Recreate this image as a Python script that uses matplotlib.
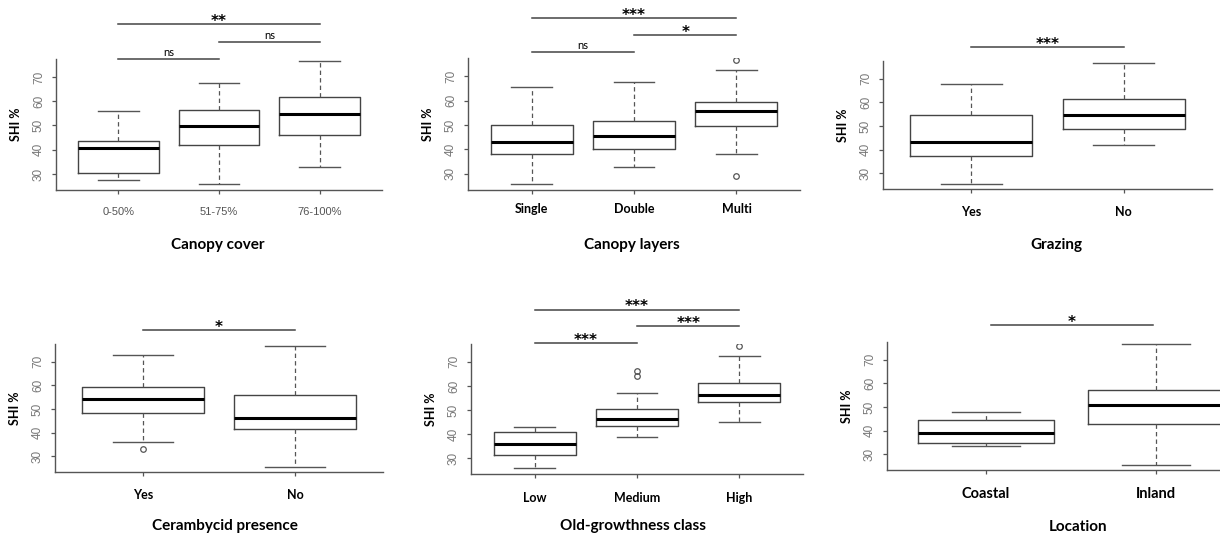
import matplotlib
matplotlib.use("Agg")
import matplotlib.pyplot as plt

# ---- data (SHI %) ----
cover_cats = ["0-50%", "51-75%", "76-100%"]
cover_whislo = [27.5, 25.7, 33.0]
cover_q1 = [30.3, 42.0, 46.1]
cover_med = [40.7, 49.8, 54.8]
cover_q3 = [43.6, 56.3, 61.8]
cover_whishi = [55.9, 67.6, 76.5]
cover_fliers = [[], [], []]
cover_sig = [(1, 2, 77.5, "ns"), (2, 3, 84.4, "ns"), (1, 3, 91.7, "**")]

layers_cats = ["Single", "Double", "Multi"]
layers_whislo = [25.7, 33.0, 38.2]
layers_q1 = [38.2, 40.2, 49.4]
layers_med = [42.9, 45.5, 55.7]
layers_q3 = [49.9, 51.7, 59.3]
layers_whishi = [65.6, 67.6, 72.5]
layers_fliers = [[], [], [76.5, 29.3]]
layers_sig = [(1, 2, 79.8, "ns"), (2, 3, 86.7, "*"), (1, 3, 93.7, "***")]

grazing_cats = ["Yes", "No"]
grazing_whislo = [25.7, 41.8]
grazing_q1 = [37.5, 48.8]
grazing_med = [43.3, 54.8]
grazing_q3 = [54.5, 61.3]
grazing_whishi = [67.6, 76.5]
grazing_fliers = [[], []]
grazing_sig = [(1, 2, 83.3, "***")]

ceram_cats = ["Yes", "No"]
ceram_whislo = [36.1, 25.7]
ceram_q1 = [48.5, 41.5]
ceram_med = [54.4, 46.2]
ceram_q3 = [59.2, 55.7]
ceram_whishi = [72.6, 76.6]
ceram_fliers = [[33.2], []]
ceram_sig = [(1, 2, 83.3, "*")]

og_cats = ["Low", "Medium", "High"]
og_whislo = [25.8, 38.6, 44.8]
og_q1 = [31.4, 43.4, 53.5]
og_med = [35.7, 46.3, 56.2]
og_q3 = [40.7, 50.2, 61.4]
og_whishi = [42.9, 57.1, 72.6]
og_fliers = [[], [66.1, 64.2], [76.6]]
og_sig = [(1, 2, 77.9, "***"), (2, 3, 84.8, "***"), (1, 3, 91.7, "***")]

loc_cats = ["Coastal", "Inland"]
loc_whislo = [33.5, 25.7]
loc_q1 = [34.7, 43.0]
loc_med = [39.1, 51.0]
loc_q3 = [44.5, 57.1]
loc_whishi = [47.7, 76.4]
loc_fliers = [[], []]
loc_sig = [(1.03, 1.98, 84.7, "*")]

titles = ["Canopy cover", "Canopy layers", "Grazing",
          "Cerambycid presence", "Old-growthness class", "Location"]

W, H = 1220, 536
fig = plt.figure(figsize=(W / 100, H / 100), dpi=100)
BOLD = ["Lato", "DejaVu Sans"]


def make_stats(whislo, q1, med, q3, whishi, fliers):
    return [dict(whislo=a, q1=b, med=c, q3=d, whishi=e, fliers=f)
            for a, b, c, d, e, f in zip(whislo, q1, med, q3, whishi, fliers)]


def panel(box, cats, stats, sig, title, title_xy, tick_font, tick_pad):
    left, right, top, bottom = box
    ax = fig.add_axes([left / W, 1 - bottom / H, (right - left) / W, (bottom - top) / H])
    n = len(cats)
    pos = list(range(1, n + 1))
    ax.bxp(stats, positions=pos, widths=0.8, capwidths=0.4, patch_artist=False,
           boxprops=dict(color="#444444", lw=1.0),
           whiskerprops=dict(color="#555555", lw=0.9, linestyle=(0, (3.5, 2.5))),
           capprops=dict(color="#555555", lw=1.0),
           medianprops=dict(color="black", lw=2.2, solid_capstyle="butt"),
           flierprops=dict(marker="o", mfc="none", mec="#555555", ms=4, mew=0.9))
    ax.set_xlim(0.5 - 0.04 * n, n + 0.5 + 0.04 * n)
    ax.set_ylim(23.4, 77.4)
    for s in ("top", "right"):
        ax.spines[s].set_visible(False)
    for s in ("left", "bottom"):
        ax.spines[s].set_color("#555555")
        ax.spines[s].set_linewidth(1.0)
    ax.set_yticks([30, 40, 50, 60, 70])
    ax.set_yticklabels(["30", "40", "50", "60", "70"], rotation=90, va="center",
                       color="#777777", fontsize=8.5, family="Liberation Sans")
    ax.tick_params(axis="y", length=3, width=0.9, color="#555555", pad=5)
    ax.set_xticks(pos)
    ax.set_xticklabels(cats, **tick_font)
    ax.tick_params(axis="x", length=3, width=0.9, color="#555555", pad=tick_pad)
    # y label placed ~40 px left of spine
    fig.text((left - 40) / W, 1 - (top + bottom) / 2 / H, "SHI %", rotation=90,
             ha="center", va="center", fontsize=9, fontweight="bold", family=BOLD)
    for i, j, y, lab in sig:
        ax.plot([i, j], [y, y], color="#444444", lw=1.1, clip_on=False)
        if lab == "ns":
            ax.annotate(lab, xy=((i + j) / 2, y), xytext=(0, 0.5), textcoords="offset points",
                        ha="center", va="bottom", fontsize=8, family=BOLD,
                        annotation_clip=False)
        else:
            ax.annotate(lab, xy=((i + j) / 2, y), xytext=(0, -3.5), textcoords="offset points",
                        ha="center", va="bottom", fontsize=11, fontweight="bold",
                        family="DejaVu Sans", annotation_clip=False)
    fig.text(title_xy[0] / W, 1 - title_xy[1] / H, title, ha="center", va="center",
             fontsize=11, fontweight="bold", family=BOLD)
    return ax


grey_font = dict(fontsize=8, color="#555555", family="Liberation Sans")
bold_font = dict(fontsize=9, color="black", fontweight="bold", family=BOLD)
big_font = dict(fontsize=10.5, color="black", fontweight="bold", family=BOLD)

panel((56, 382, 59, 190), cover_cats,
      make_stats(cover_whislo, cover_q1, cover_med, cover_q3, cover_whishi, cover_fliers),
      cover_sig, titles[0], (218, 245), grey_font, 9)
panel((468, 800, 58, 190), layers_cats,
      make_stats(layers_whislo, layers_q1, layers_med, layers_q3, layers_whishi, layers_fliers),
      layers_sig, titles[1], (632, 245), bold_font, 6)
panel((883, 1212, 61, 189), grazing_cats,
      make_stats(grazing_whislo, grazing_q1, grazing_med, grazing_q3, grazing_whishi, grazing_fliers),
      grazing_sig, titles[2], (1056, 245), bold_font, 9)
panel((55, 383, 344, 472), ceram_cats,
      make_stats(ceram_whislo, ceram_q1, ceram_med, ceram_q3, ceram_whishi, ceram_fliers),
      ceram_sig, titles[3], (225, 526), bold_font, 9)
panel((471, 803, 344, 474), og_cats,
      make_stats(og_whislo, og_q1, og_med, og_q3, og_whishi, og_fliers),
      og_sig, titles[4], (633, 526), bold_font, 10)
panel((887, 1255, 342, 470), loc_cats,
      make_stats(loc_whislo, loc_q1, loc_med, loc_q3, loc_whishi, loc_fliers),
      loc_sig, titles[5], (1078, 527), big_font, 9)

fig.savefig("out.png", dpi=100, facecolor="white")
